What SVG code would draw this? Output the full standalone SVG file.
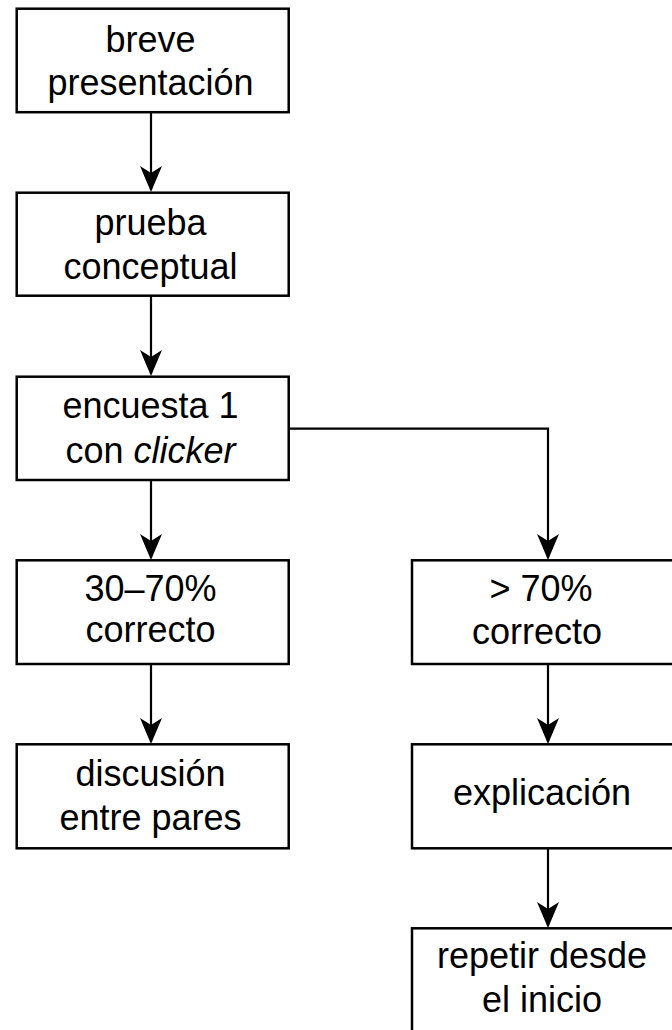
<svg xmlns="http://www.w3.org/2000/svg" width="672" height="1030" viewBox="0 0 672 1030">
<style>
.box{fill:#fff;stroke:#000;stroke-width:2.5}
.t{font-family:"Liberation Sans",Arial,Helvetica,sans-serif;font-size:36px;fill:#000;text-anchor:middle}
.c{fill:none;stroke:#000;stroke-width:2.2}
</style>
<defs>
<marker id="ah" viewBox="0 0 26 22" refX="24" refY="11" markerWidth="26" markerHeight="22" markerUnits="userSpaceOnUse" orient="auto">
<path d="M26,11 L0,0 L7,11 L0,22 Z" fill="#000"/>
</marker>
</defs>
<rect width="672" height="1030" fill="#fff"/>
<g id="connectors">
<path class="c" d="M151,112 V190" marker-end="url(#ah)"/>
<path class="c" d="M151,296 V374" marker-end="url(#ah)"/>
<path class="c" d="M151,480 V558" marker-end="url(#ah)"/>
<path class="c" d="M151,664 V742" marker-end="url(#ah)"/>
<path class="c" d="M289,428.7 H548 V558" marker-end="url(#ah)"/>
<path class="c" d="M548,664 V742" marker-end="url(#ah)"/>
<path class="c" d="M548,848 V926" marker-end="url(#ah)"/>
</g>
<g id="n1"><rect class="box" x="16.7" y="8.7" width="272" height="103.5"/><text class="t" x="150.5" y="51.7">breve</text><text class="t" x="150.5" y="95">presentación</text></g>
<g id="n2"><rect class="box" x="16.7" y="192.7" width="272" height="103"/><text class="t" x="150.5" y="235">prueba</text><text class="t" x="150.5" y="278.5">conceptual</text></g>
<g id="n3"><rect class="box" x="16.7" y="376.7" width="272" height="103.3"/><text class="t" x="150.5" y="418.3">encuesta 1</text><text class="t" x="150.5" y="463.3">con <tspan font-style="italic">clicker</tspan></text></g>
<g id="n4"><rect class="box" x="16.7" y="560.3" width="272" height="103.7"/><text class="t" x="150.5" y="601">30–70%</text><text class="t" x="150.5" y="642">correcto</text></g>
<g id="n5"><rect class="box" x="412" y="560.3" width="272" height="103.7"/><text class="t" x="541" y="601">&gt; 70%</text><text class="t" x="537" y="644">correcto</text></g>
<g id="n6"><rect class="box" x="16.7" y="744.3" width="272" height="104"/><text class="t" x="150.5" y="786">discusión</text><text class="t" x="150.5" y="830">entre pares</text></g>
<g id="n7"><rect class="box" x="412" y="744.3" width="272" height="104"/><text class="t" x="542" y="805">explicación</text></g>
<g id="n8"><rect class="box" x="412" y="928.3" width="272" height="110"/><text class="t" x="542" y="968.3">repetir desde</text><text class="t" x="542" y="1011.7">el inicio</text></g>
</svg>
